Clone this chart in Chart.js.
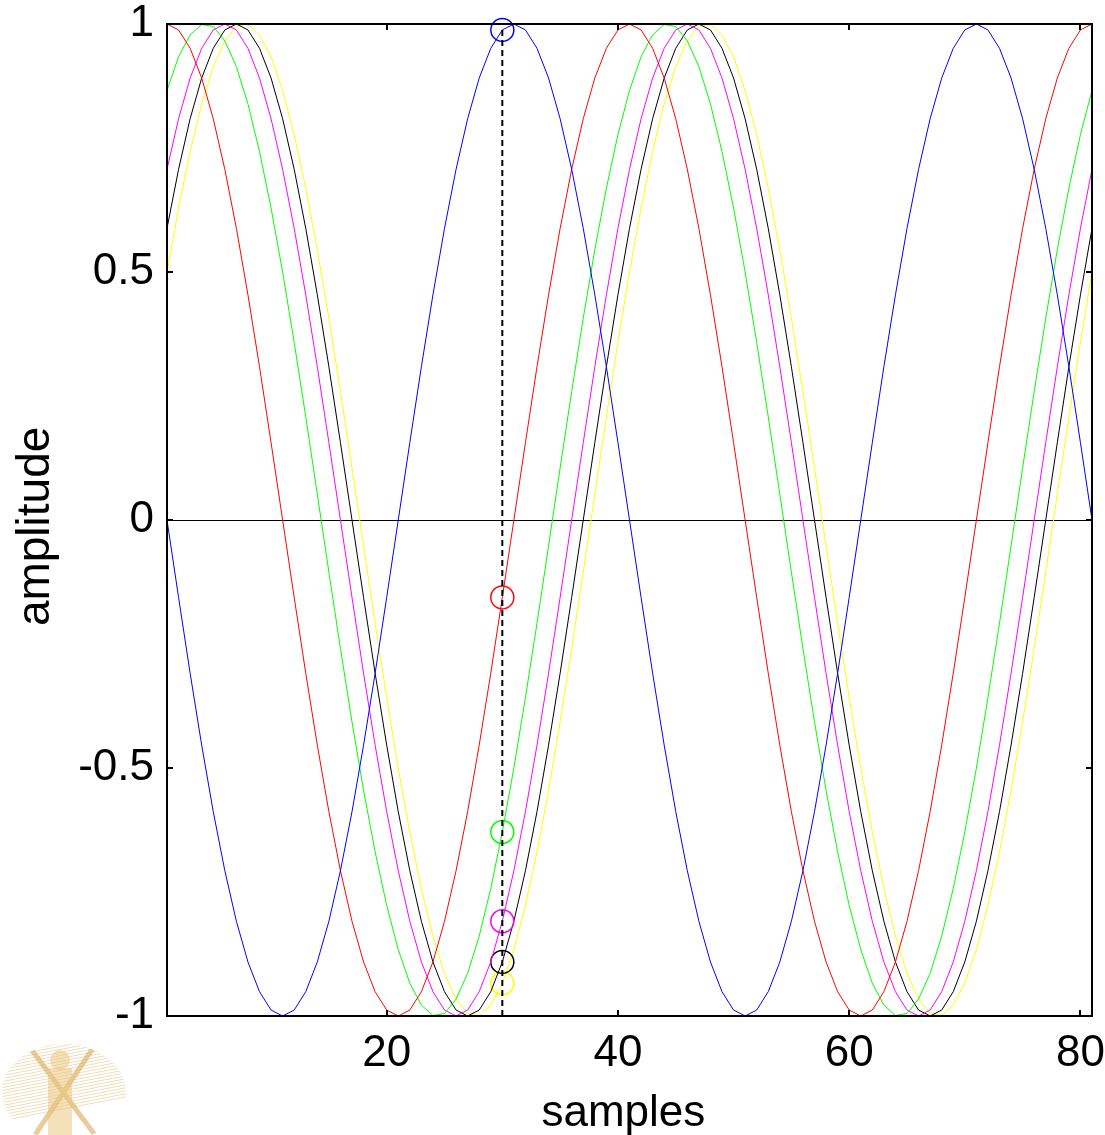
<!DOCTYPE html>
<html>
<head>
<meta charset="utf-8">
<script src="https://cdn.jsdelivr.net/npm/chart.js@4.4.1/dist/chart.umd.min.js"></script>
<style>
  html, body { margin: 0; padding: 0; background: #fff; }
  #wrap { width: 1105px; height: 1135px; }
</style>
</head>
<body>
<div id="wrap"><canvas id="plot" width="1105" height="1135"></canvas></div>
<script>
const samples = [
  1, 2, 3, 4, 5, 6, 7, 8, 9, 10, 11, 12, 13, 14, 15, 16, 17, 18, 19, 20,
  21, 22, 23, 24, 25, 26, 27, 28, 29, 30, 31, 32, 33, 34, 35, 36, 37, 38, 39, 40,
  41, 42, 43, 44, 45, 46, 47, 48, 49, 50, 51, 52, 53, 54, 55, 56, 57, 58, 59, 60,
  61, 62, 63, 64, 65, 66, 67, 68, 69, 70, 71, 72, 73, 74, 75, 76, 77, 78, 79, 80, 81
];
const xTicks = [20, 40, 60, 80];
const yTicks = [-1, -0.5, 0, 0.5, 1];
const cursorSample = 30;
const cursorSpan = [-1, 0.988];

const blueWave = [
  0.000, -0.156, -0.309, -0.454, -0.588, -0.707, -0.809, -0.891, -0.951, -0.988,
  -1.000, -0.988, -0.951, -0.891, -0.809, -0.707, -0.588, -0.454, -0.309, -0.156,
  0.000, 0.156, 0.309, 0.454, 0.588, 0.707, 0.809, 0.891, 0.951, 0.988,
  1.000, 0.988, 0.951, 0.891, 0.809, 0.707, 0.588, 0.454, 0.309, 0.156,
  0.000, -0.156, -0.309, -0.454, -0.588, -0.707, -0.809, -0.891, -0.951, -0.988,
  -1.000, -0.988, -0.951, -0.891, -0.809, -0.707, -0.588, -0.454, -0.309, -0.156,
  0.000, 0.156, 0.309, 0.454, 0.588, 0.707, 0.809, 0.891, 0.951, 0.988,
  1.000, 0.988, 0.951, 0.891, 0.809, 0.707, 0.588, 0.454, 0.309, 0.156,
  0.000
];
const redWave = [
  1.000, 0.988, 0.951, 0.891, 0.809, 0.707, 0.588, 0.454, 0.309, 0.156,
  0.000, -0.156, -0.309, -0.454, -0.588, -0.707, -0.809, -0.891, -0.951, -0.988,
  -1.000, -0.988, -0.951, -0.891, -0.809, -0.707, -0.588, -0.454, -0.309, -0.156,
  0.000, 0.156, 0.309, 0.454, 0.588, 0.707, 0.809, 0.891, 0.951, 0.988,
  1.000, 0.988, 0.951, 0.891, 0.809, 0.707, 0.588, 0.454, 0.309, 0.156,
  0.000, -0.156, -0.309, -0.454, -0.588, -0.707, -0.809, -0.891, -0.951, -0.988,
  -1.000, -0.988, -0.951, -0.891, -0.809, -0.707, -0.588, -0.454, -0.309, -0.156,
  0.000, 0.156, 0.309, 0.454, 0.588, 0.707, 0.809, 0.891, 0.951, 0.988,
  1.000
];
const greenWave = [
  0.866, 0.934, 0.978, 0.999, 0.995, 0.966, 0.914, 0.839, 0.743, 0.629,
  0.500, 0.358, 0.208, 0.052, -0.105, -0.259, -0.407, -0.545, -0.669, -0.777,
  -0.866, -0.934, -0.978, -0.999, -0.995, -0.966, -0.914, -0.839, -0.743, -0.629,
  -0.500, -0.358, -0.208, -0.052, 0.105, 0.259, 0.407, 0.545, 0.669, 0.777,
  0.866, 0.934, 0.978, 0.999, 0.995, 0.966, 0.914, 0.839, 0.743, 0.629,
  0.500, 0.358, 0.208, 0.052, -0.105, -0.259, -0.407, -0.545, -0.669, -0.777,
  -0.866, -0.934, -0.978, -0.999, -0.995, -0.966, -0.914, -0.839, -0.743, -0.629,
  -0.500, -0.358, -0.208, -0.052, 0.105, 0.259, 0.407, 0.545, 0.669, 0.777,
  0.866
];
const magentaWave = [
  0.707, 0.809, 0.891, 0.951, 0.988, 1.000, 0.988, 0.951, 0.891, 0.809,
  0.707, 0.588, 0.454, 0.309, 0.156, 0.000, -0.156, -0.309, -0.454, -0.588,
  -0.707, -0.809, -0.891, -0.951, -0.988, -1.000, -0.988, -0.951, -0.891, -0.809,
  -0.707, -0.588, -0.454, -0.309, -0.156, 0.000, 0.156, 0.309, 0.454, 0.588,
  0.707, 0.809, 0.891, 0.951, 0.988, 1.000, 0.988, 0.951, 0.891, 0.809,
  0.707, 0.588, 0.454, 0.309, 0.156, 0.000, -0.156, -0.309, -0.454, -0.588,
  -0.707, -0.809, -0.891, -0.951, -0.988, -1.000, -0.988, -0.951, -0.891, -0.809,
  -0.707, -0.588, -0.454, -0.309, -0.156, 0.000, 0.156, 0.309, 0.454, 0.588,
  0.707
];
const blackWave = [
  0.588, 0.707, 0.809, 0.891, 0.951, 0.988, 1.000, 0.988, 0.951, 0.891,
  0.809, 0.707, 0.588, 0.454, 0.309, 0.156, 0.000, -0.156, -0.309, -0.454,
  -0.588, -0.707, -0.809, -0.891, -0.951, -0.988, -1.000, -0.988, -0.951, -0.891,
  -0.809, -0.707, -0.588, -0.454, -0.309, -0.156, 0.000, 0.156, 0.309, 0.454,
  0.588, 0.707, 0.809, 0.891, 0.951, 0.988, 1.000, 0.988, 0.951, 0.891,
  0.809, 0.707, 0.588, 0.454, 0.309, 0.156, 0.000, -0.156, -0.309, -0.454,
  -0.588, -0.707, -0.809, -0.891, -0.951, -0.988, -1.000, -0.988, -0.951, -0.891,
  -0.809, -0.707, -0.588, -0.454, -0.309, -0.156, 0.000, 0.156, 0.309, 0.454,
  0.588
];
const yellowWave = [
  0.500, 0.629, 0.743, 0.839, 0.914, 0.966, 0.995, 0.999, 0.978, 0.934,
  0.866, 0.777, 0.669, 0.545, 0.407, 0.259, 0.105, -0.052, -0.208, -0.358,
  -0.500, -0.629, -0.743, -0.839, -0.914, -0.966, -0.995, -0.999, -0.978, -0.934,
  -0.866, -0.777, -0.669, -0.545, -0.407, -0.259, -0.105, 0.052, 0.208, 0.358,
  0.500, 0.629, 0.743, 0.839, 0.914, 0.966, 0.995, 0.999, 0.978, 0.934,
  0.866, 0.777, 0.669, 0.545, 0.407, 0.259, 0.105, -0.052, -0.208, -0.358,
  -0.500, -0.629, -0.743, -0.839, -0.914, -0.966, -0.995, -0.999, -0.978, -0.934,
  -0.866, -0.777, -0.669, -0.545, -0.407, -0.259, -0.105, 0.052, 0.208, 0.358,
  0.500
];

const series = [
  { name: 'blue', color: '#0000ff', values: blueWave },
  { name: 'red', color: '#ff0000', values: redWave },
  { name: 'green', color: '#00ff00', values: greenWave },
  { name: 'magenta', color: '#ff00ff', values: magentaWave },
  { name: 'black', color: '#000000', values: blackWave },
  { name: 'yellow', color: '#ffff00', values: yellowWave }
];

const FONT = '"Liberation Sans", Arial, sans-serif';
const cursorIndex = samples.indexOf(cursorSample);

const waveSets = series.map(s => ({
  label: s.name,
  data: samples.map((n, i) => ({ x: n, y: s.values[i] })),
  borderColor: s.color,
  borderWidth: 1,
  pointRadius: ctx => ctx.dataIndex === cursorIndex ? 11.5 : 0,
  pointBorderColor: s.color,
  pointBackgroundColor: 'rgba(0,0,0,0)',
  pointBorderWidth: 1.5,
  tension: 0,
  clip: false
}));

const cursorSet = {
  label: 'cursor',
  data: cursorSpan.map(v => ({ x: cursorSample, y: v })),
  borderColor: '#000',
  borderWidth: 2,
  borderDash: [6, 4],
  pointRadius: 0,
  clip: false
};

// drop the automatic label overflow padding so the plot box sits where the figure has it
const noPad = s => { s.paddingTop = 0; s.paddingBottom = 0; s.paddingLeft = 0; s.paddingRight = 0; };

// box and the small inward tick marks
const framePlugin = {
  id: 'frame',
  afterDatasetsDraw(chart) {
    const { ctx, chartArea: a, scales } = chart;
    ctx.save();
    ctx.strokeStyle = '#000';
    ctx.lineWidth = 2;
    ctx.strokeRect(a.left, a.top, a.right - a.left, a.bottom - a.top);
    const len = 6;
    ctx.beginPath();
    scales.x.ticks.forEach(t => {
      const px = Math.round(scales.x.getPixelForValue(t.value));
      ctx.moveTo(px, a.bottom); ctx.lineTo(px, a.bottom - len);
      ctx.moveTo(px, a.top); ctx.lineTo(px, a.top + len);
    });
    scales.y.ticks.forEach(t => {
      const py = Math.round(scales.y.getPixelForValue(t.value));
      ctx.moveTo(a.left, py); ctx.lineTo(a.left + len, py);
      ctx.moveTo(a.right, py); ctx.lineTo(a.right - len, py);
    });
    ctx.stroke();
    ctx.restore();
  }
};

// faint university emblem in the lower left corner
const emblemPlugin = {
  id: 'emblem',
  beforeDraw(chart) {
    const ctx = chart.ctx;
    ctx.save();
    ctx.beginPath();
    ctx.ellipse(64, 1092, 62, 48, 0, 0, Math.PI * 2);
    ctx.clip();
    ctx.strokeStyle = 'rgba(226,190,120,0.5)';
    ctx.lineWidth = 1;
    for (let i = -60; i < 140; i += 5) {
      ctx.beginPath();
      ctx.moveTo(0, 1040 + i * 0.6);
      ctx.lineTo(130, 1040 + i * 0.6 - 25);
      ctx.stroke();
    }
    ctx.strokeStyle = 'rgba(215,170,90,0.6)';
    ctx.lineWidth = 5;
    ctx.beginPath();
    ctx.moveTo(28, 1045); ctx.lineTo(95, 1135);
    ctx.moveTo(95, 1045); ctx.lineTo(35, 1135);
    ctx.stroke();
    ctx.fillStyle = 'rgba(235,200,130,0.55)';
    ctx.fillRect(48, 1068, 24, 67);
    ctx.beginPath();
    ctx.arc(60, 1060, 10, 0, Math.PI * 2);
    ctx.fill();
    ctx.restore();
  }
};

new Chart(document.getElementById('plot'), {
  type: 'line',
  data: { datasets: [cursorSet, ...waveSets] },
  options: {
    responsive: false,
    animation: false,
    events: [],
    layout: { padding: { top: 24, right: 13, left: 0, bottom: 0 } },
    plugins: { legend: { display: false }, tooltip: { enabled: false } },
    scales: {
      x: {
        type: 'linear',
        min: 1,
        max: 81,
        afterBuildTicks: s => { s.ticks = xTicks.map(v => ({ value: v })); },
        afterFit: s => { s.height = 119; noPad(s); },
        grid: { display: false },
        border: { display: false },
        ticks: {
          color: '#000',
          font: { family: FONT, size: 44, lineHeight: 1.2 },
          padding: 3,
          maxRotation: 0,
          autoSkip: false,
          callback: v => String(v)
        },
        title: {
          display: true,
          text: 'samples ',
          color: '#000',
          font: { family: FONT, size: 44, lineHeight: 0.96 },
          padding: 0
        }
      },
      y: {
        min: -1,
        max: 1,
        afterBuildTicks: s => { s.ticks = yTicks.map(v => ({ value: v })); },
        afterFit: s => { s.width = 167; noPad(s); },
        grid: {
          drawTicks: false,
          color: c => (c.tick && c.tick.value === 0) ? '#000' : 'rgba(0,0,0,0)',
          lineWidth: 1
        },
        border: { display: false },
        ticks: {
          color: '#000',
          font: { family: FONT, size: 44, lineHeight: 1.2 },
          padding: 13,
          autoSkip: false,
          callback: v => String(v)
        },
        title: {
          display: true,
          text: 'amplitude ',
          color: '#000',
          font: { family: FONT, size: 46, lineHeight: 1.2 },
          padding: { top: 9, bottom: 0 }
        }
      }
    }
  },
  plugins: [emblemPlugin, framePlugin]
});
</script>
</body>
</html>
